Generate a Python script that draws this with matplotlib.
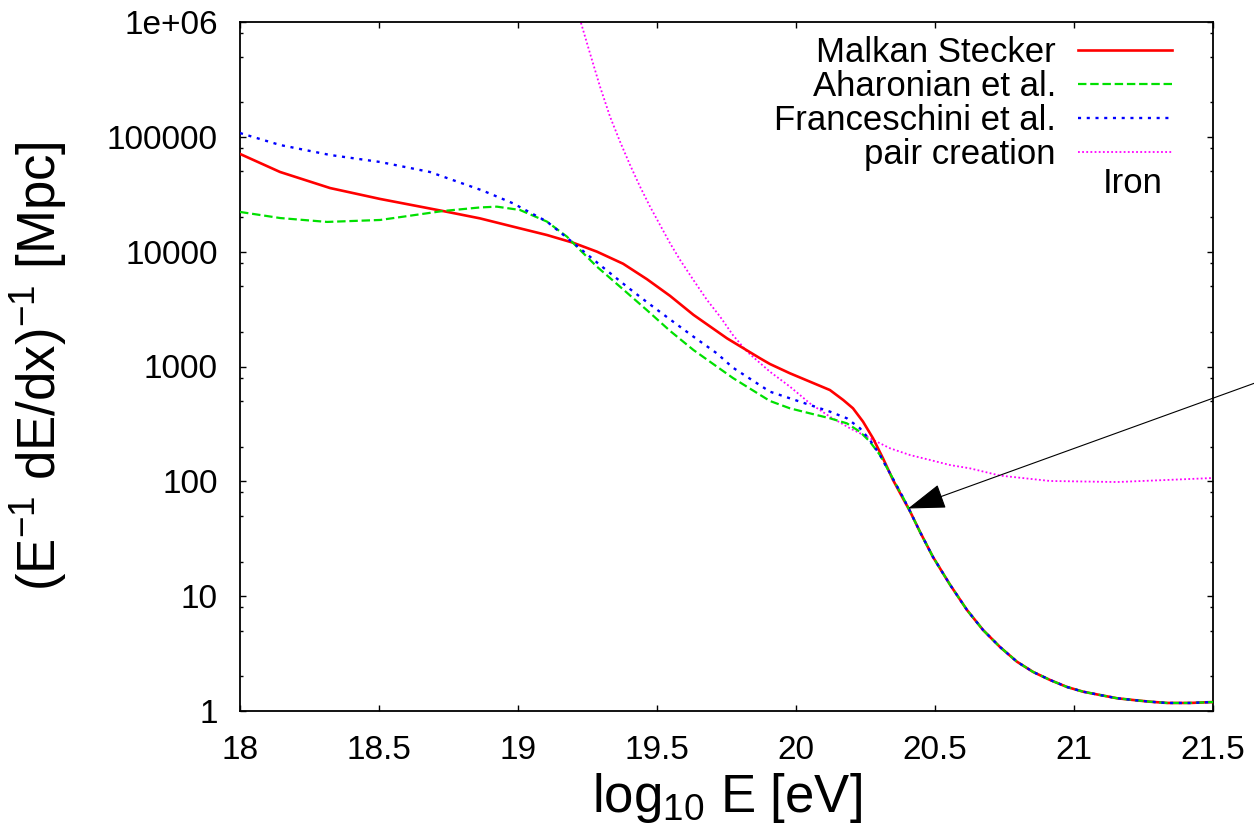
import matplotlib

matplotlib.use("Agg")
import matplotlib.pyplot as plt
import numpy as np
from matplotlib.ticker import FixedLocator, LogLocator, NullFormatter

plt.rcParams["font.family"] = ["Liberation Sans", "DejaVu Sans"]
plt.rcParams["mathtext.fontset"] = "custom"
plt.rcParams["mathtext.rm"] = "Liberation Sans"
plt.rcParams["mathtext.it"] = "Liberation Sans"

# log10 E [eV] against log10 of the loss length [Mpc].
# above ~20.4 the three background models coincide, so they share one tail
tail_x = [20.41, 20.446, 20.493, 20.554, 20.615, 20.673, 20.734, 20.795, 20.853,
          20.914, 20.975, 21.033, 21.094, 21.155, 21.212, 21.273, 21.335, 21.417, 21.5]
tail_log = [1.74, 1.56, 1.34, 1.1, 0.88, 0.705, 0.557, 0.429, 0.34,
            0.27, 0.209, 0.168, 0.139, 0.111, 0.096, 0.081, 0.07, 0.07, 0.078]

malkan_x = [18.0, 18.144, 18.324, 18.504, 18.73, 18.863, 18.982, 19.104, 19.198, 19.284,
            19.378, 19.464, 19.547, 19.631, 19.752, 19.871, 19.906, 19.978, 20.05, 20.122,
            20.17, 20.205, 20.241, 20.277, 20.313, 20.349, 20.385]
malkan_log = [4.851, 4.694, 4.554, 4.459, 4.354, 4.29, 4.218, 4.145, 4.078, 4.0,
              3.895, 3.76, 3.615, 3.45, 3.245, 3.071, 3.022, 2.941, 2.868, 2.795,
              2.708, 2.636, 2.52, 2.375, 2.2, 2.012, 1.85]

aharonian_x = [18.0, 18.144, 18.313, 18.504, 18.73, 18.863, 18.924, 19.007, 19.104, 19.176,
               19.223, 19.284, 19.367, 19.464, 19.547, 19.631, 19.773, 19.906, 19.978,
               20.05, 20.122, 20.183, 20.23, 20.266, 20.302, 20.338, 20.385]
aharonian_log = [4.346, 4.293, 4.259, 4.276, 4.354, 4.385, 4.392, 4.363, 4.262, 4.131,
                 4.015, 3.869, 3.695, 3.49, 3.31, 3.144, 2.9, 2.7, 2.636,
                 2.592, 2.549, 2.505, 2.432, 2.345, 2.229, 2.07, 1.86]

franceschini_x = [18.0, 18.144, 18.324, 18.504, 18.683, 18.874, 18.982, 19.104, 19.198,
                  19.295, 19.392, 19.464, 19.547, 19.631, 19.715, 19.773, 19.906, 19.978,
                  20.05, 20.122, 20.183, 20.23, 20.266, 20.302, 20.338, 20.385]
franceschini_log = [5.033, 4.929, 4.842, 4.781, 4.694, 4.531, 4.421, 4.262, 4.078,
                    3.884, 3.695, 3.56, 3.41, 3.26, 3.115, 2.99, 2.781, 2.723,
                    2.665, 2.607, 2.549, 2.462, 2.36, 2.229, 2.07, 1.86]

pair_x = [19.2, 19.227, 19.259, 19.295, 19.331, 19.367, 19.403, 19.439, 19.475, 19.511,
          19.547, 19.583, 19.631, 19.68, 19.727, 19.773, 19.824, 19.906, 19.978, 20.05,
          20.122, 20.194, 20.266, 20.338, 20.41, 20.482, 20.554, 20.626, 20.734, 20.914,
          21.155, 21.335, 21.5]
pair_log = [6.2, 5.989, 5.727, 5.437, 5.176, 4.958, 4.755, 4.566, 4.392, 4.232,
            4.073, 3.928, 3.753, 3.579, 3.434, 3.274, 3.129, 2.955, 2.825, 2.679,
            2.563, 2.462, 2.375, 2.288, 2.229, 2.186, 2.142, 2.113, 2.05, 2.003,
            1.994, 2.012, 2.029]

x_ticks = [18, 18.5, 19, 19.5, 20, 20.5, 21, 21.5]
x_labels = ["18", "18.5", "19", "19.5", "20", "20.5", "21", "21.5"]
y_ticks = [1, 10, 100, 1000, 10000, 100000, 1e6]
y_labels = ["1", "10", "100", "1000", "10000", "100000", "1e+06"]

arrow_tip = (20.403, 58)
arrow_tail = (21.8, 970)


def curve(x, logs):
    return np.array(x), 10.0 ** np.array(logs)


fig = plt.figure(figsize=(12.54, 8.26), dpi=100)
ax = fig.add_axes([240 / 1254, 1 - 711 / 826, 973 / 1254, 689 / 826])

ax.plot(*curve(malkan_x + tail_x, malkan_log + tail_log), color="#ff0000", lw=1.9,
        label="Malkan Stecker", zorder=3)
ax.plot(*curve(aharonian_x + tail_x, aharonian_log + tail_log), color="#00e000", lw=1.6,
        ls=(0, (3.8, 1.7)), label="Aharonian et al.", zorder=4)
ax.plot(*curve(franceschini_x + tail_x, franceschini_log + tail_log), color="#0000ff",
        lw=1.7, ls=(0, (1.3, 2.4)), label="Franceschini et al.", zorder=5)
ax.plot(*curve(pair_x, pair_log), color="#ff00ff", lw=1.3, ls=(0, (1.0, 1.3)),
        label="pair creation", zorder=2)

ax.set_yscale("log")
ax.set_xlim(18, 21.5)
ax.set_ylim(1, 1e6)
ax.xaxis.set_major_locator(FixedLocator(x_ticks))
ax.set_xticklabels(x_labels)
ax.yaxis.set_major_locator(FixedLocator(y_ticks))
ax.set_yticklabels(y_labels)
ax.yaxis.set_minor_locator(LogLocator(base=10, subs=[2, 5, 8]))
ax.yaxis.set_minor_formatter(NullFormatter())

ax.tick_params(which="both", direction="in", top=True, right=True, width=1.0)
ax.tick_params(which="major", length=4.5, labelsize=24)
ax.tick_params(axis="x", which="major", pad=17)
ax.tick_params(axis="y", which="major", pad=16)
ax.tick_params(which="minor", length=2.5)
for spine in ax.spines.values():
    spine.set_linewidth(1.3)

ax.set_xlabel(r"log$_{10}$ E [eV]", fontsize=38, labelpad=4)
ax.set_ylabel(r"(E$^{\mathrm{-1}}$ dE/dx)$^{\mathrm{-1}}$ [Mpc]", fontsize=38, labelpad=27)

ax.legend(loc="upper right", bbox_to_anchor=(0.958, 0.98), frameon=False,
          markerfirst=False, fontsize=25, handlelength=2.7, handletextpad=0.65,
          labelspacing=0.03, borderaxespad=0, borderpad=0)
ax.text(0.917, 0.766, "Iron", transform=ax.transAxes, fontsize=25,
        ha="center", va="center")

ax.annotate("", xy=arrow_tip, xytext=arrow_tail, annotation_clip=False,
            arrowprops=dict(arrowstyle="-|>,head_length=1.2,head_width=0.4",
                            mutation_scale=20, color="black", lw=0.8,
                            shrinkA=0, shrinkB=0, clip_on=False), zorder=6)

fig.savefig("out.png", dpi=100)
plt.close(fig)
